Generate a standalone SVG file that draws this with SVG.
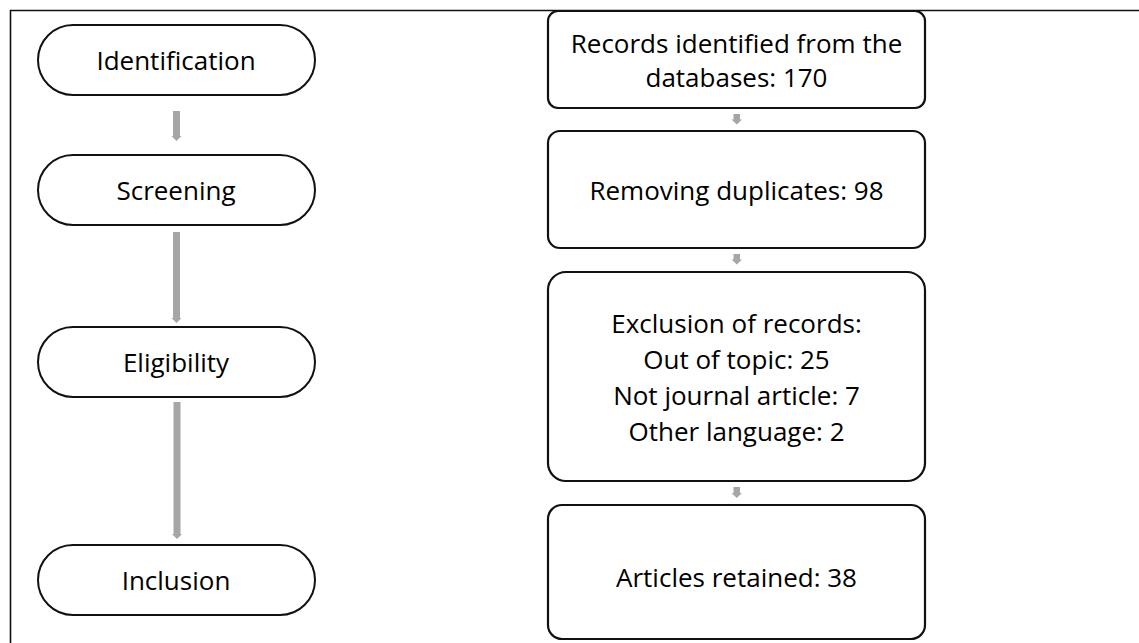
<svg xmlns="http://www.w3.org/2000/svg" width="1139" height="643" viewBox="0 0 1139 643">
<style>
.stage{fill:#fff;stroke:#111;stroke-width:2}
.box{fill:#fff;stroke:#111;stroke-width:2.2}
.t{font-family:"Open Sans","DejaVu Sans",sans-serif;font-size:26px;fill:#000;text-anchor:middle;dominant-baseline:central}
.arr{fill:#a6a6a6}
</style>
<rect width="1139" height="643" fill="#fff"/>
<path d="M10.5 643 V10.5 H1139" fill="none" stroke="#111" stroke-width="1.6"/>
<g id="identification"><rect class="stage" x="38" y="25" width="277" height="70" rx="35"/><text class="t" x="176" y="60">Identification</text></g>
<g id="screening"><rect class="stage" x="38" y="155" width="277" height="70" rx="35"/><text class="t" x="176" y="190">Screening</text></g>
<g id="eligibility"><rect class="stage" x="38" y="327" width="277" height="70" rx="35"/><text class="t" x="176" y="362">Eligibility</text></g>
<g id="inclusion"><rect class="stage" x="38" y="545" width="277" height="70" rx="35"/><text class="t" x="176" y="580">Inclusion</text></g>
<g id="records"><rect class="box" x="548" y="11" width="377" height="97" rx="10"/><text class="t" x="736.5" y="43">Records identified from the</text><text class="t" x="736.5" y="77">databases: 170</text></g>
<g id="duplicates"><rect class="box" x="548" y="131" width="377" height="117" rx="12"/><text class="t" x="736.5" y="190">Removing duplicates: 98</text></g>
<g id="exclusion"><rect class="box" x="548" y="272" width="377" height="209" rx="18"/><text class="t" x="736.5" y="323">Exclusion of records:</text><text class="t" x="736.5" y="359">Out of topic: 25</text><text class="t" x="736.5" y="395">Not journal article: 7</text><text class="t" x="736.5" y="431">Other language: 2</text></g>
<g id="retained"><rect class="box" x="548" y="505" width="377" height="134" rx="14"/><text class="t" x="736.5" y="577">Articles retained: 38</text></g>
<g id="connectors">
<path class="arr" d="M173 111 H180 V136 H181.5 L176.5 141 L171.5 136 H173 Z"/>
<path class="arr" d="M173 232 H180 V318 H181.5 L176.5 323 L171.5 318 H173 Z"/>
<path class="arr" d="M173.5 402 H180.5 V534 H182 L177 539 L172 534 H173.5 Z"/>
<path class="arr" d="M733.5 114 H740 V119.5 H742 L736.8 124.5 L731.5 119.5 H733.5 Z"/>
<path class="arr" d="M733.5 254 H740 V259.5 H742 L736.8 264.5 L731.5 259.5 H733.5 Z"/>
<path class="arr" d="M733.5 487 H740 V493 H742 L736.8 498 L731.5 493 H733.5 Z"/>
</g>
</svg>
